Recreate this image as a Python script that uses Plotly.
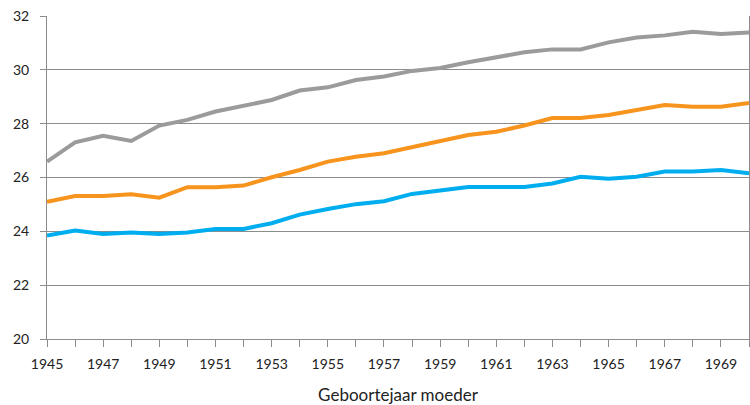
import plotly.graph_objects as go

years = list(range(1945, 1971))
grijs = [26.59, 27.31, 27.55, 27.36, 27.93, 28.14, 28.45, 28.66, 28.88, 29.23,
         29.35, 29.62, 29.75, 29.96, 30.07, 30.28, 30.48, 30.65, 30.76, 30.76,
         31.02, 31.20, 31.28, 31.41, 31.33, 31.39]
oranje = [25.10, 25.31, 25.31, 25.38, 25.25, 25.64, 25.64, 25.70, 26.01, 26.28,
          26.59, 26.77, 26.90, 27.12, 27.37, 27.58, 27.70, 27.93, 28.21, 28.21,
          28.32, 28.51, 28.69, 28.63, 28.63, 28.77]
blauw = [23.84, 24.03, 23.90, 23.96, 23.90, 23.96, 24.09, 24.09, 24.30, 24.62,
         24.83, 25.01, 25.12, 25.39, 25.52, 25.65, 25.65, 25.65, 25.78, 26.03,
         25.95, 26.03, 26.22, 26.22, 26.28, 26.16]

x_labels = [str(y) for y in range(1945, 1971, 2)]
y_ticks = [20, 22, 24, 26, 28, 30, 32]

fig = go.Figure()
for vals, col in [(blauw, "#00aeef"), (oranje, "#f7941d"), (grijs, "#9b9b9b")]:
    fig.add_trace(go.Scatter(x=years, y=vals, mode="lines",
                             line=dict(color=col, width=4), showlegend=False,
                             hoverinfo="skip", cliponaxis=True))

font = "Lato, 'Open Sans', sans-serif"
fig.update_layout(
    width=750, height=405,
    margin=dict(l=47, r=1, t=16, b=66, autoexpand=False),
    paper_bgcolor="white", plot_bgcolor="white",
    font=dict(family=font, size=14, color="#222222"),
)
fig.update_xaxes(
    range=[1945, 1970], automargin=False,
    tickvals=list(range(1945, 1971, 2)), ticktext=x_labels,
    ticks="outside", ticklen=7, tickcolor="#8c8c8c", tickwidth=1,
    minor=dict(dtick=1, tick0=1945, ticks="outside", ticklen=7,
               tickcolor="#8c8c8c", showgrid=False),
    showgrid=False, showline=True, linecolor="#8c8c8c", linewidth=1,
    zeroline=False, tickfont=dict(size=14), ticklabelstandoff=5,
    title=dict(text="Geboortejaar moeder", font=dict(size=17), standoff=20),
)
fig.update_yaxes(
    range=[20, 32], tickvals=y_ticks, automargin=False,
    ticks="outside", ticklen=6, tickcolor="#8c8c8c",
    showgrid=True, gridcolor="#8c8c8c", gridwidth=1,
    showline=True, linecolor="#8c8c8c", linewidth=1, mirror=True,
    zeroline=False, tickfont=dict(size=14), ticklabelstandoff=8,
)

fig.write_html("out.html", config={"displayModeBar": False},
               post_script="document.body.style.margin='0';document.body.style.padding='0';")
